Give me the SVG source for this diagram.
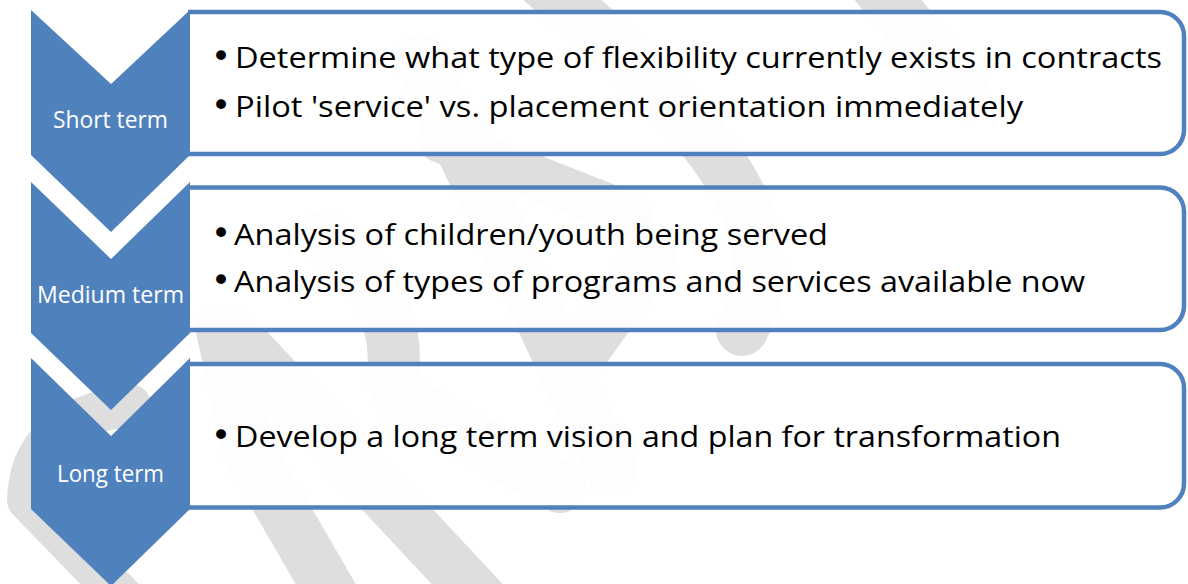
<svg xmlns="http://www.w3.org/2000/svg" width="1188" height="584" viewBox="0 0 1188 584">
<style>
.wm{fill:none;stroke:#dedede;stroke-width:52;stroke-linecap:round;stroke-linejoin:round}
.box{fill:#ffffff;fill-opacity:0.93;stroke:#4f81bd;stroke-width:4.5}
.chev{fill:#4f81bd}
.lbl{font-family:"Open Sans","Liberation Sans",sans-serif;font-size:24px;fill:#ffffff;text-anchor:middle}
.txt{font-family:"Open Sans","Liberation Sans",sans-serif;font-size:30px;fill:#000000}
.b{font-family:"DejaVu Sans",sans-serif;font-size:34px}
</style>
<rect width="1188" height="584" fill="#ffffff"/>
<g id="watermark">
<path class="wm" d="M540,-20 C700,120 800,220 742,330"/>
<path class="wm" d="M872,-20 L965,95"/>
<path class="wm" d="M420,60 L612,470"/>
<path class="wm" style="stroke-width:45" d="M440,140 L630,215"/>
<path class="wm" d="M575,362 L650,258"/>
<path class="wm" d="M325,235 Q405,300 392,380"/>
<path class="wm" d="M400,398 L560,487"/>
<path class="wm" d="M222,330 L248,450 L335,600"/>
<path class="wm" d="M230,330 L482,600"/>
<path class="wm" style="stroke-width:42" d="M130,405 Q30,420 28,500 L125,600"/>
</g>
<g id="connectors"></g>
<g id="box1">
<path class="box" d="M188,12 H1160 A24,24 0 0 1 1184,36 V130 A24,24 0 0 1 1160,154 H188"/>
<text class="txt" y="68"><tspan class="b" x="211">•</tspan><tspan x="235" textLength="927" lengthAdjust="spacingAndGlyphs">Determine what type of flexibility currently exists in contracts</tspan></text>
<text class="txt" y="116.5"><tspan class="b" x="211">•</tspan><tspan x="235" textLength="788" lengthAdjust="spacingAndGlyphs">Pilot 'service' vs. placement orientation immediately</tspan></text>
</g>
<g id="box2">
<path class="box" d="M188,187.5 H1160 A24,24 0 0 1 1184,211.5 V306 A24,24 0 0 1 1160,330 H188"/>
<text class="txt" y="245"><tspan class="b" x="211">•</tspan><tspan x="234" textLength="594" lengthAdjust="spacingAndGlyphs">Analysis of children/youth being served</tspan></text>
<text class="txt" y="292"><tspan class="b" x="211">•</tspan><tspan x="234" textLength="851" lengthAdjust="spacingAndGlyphs">Analysis of types of programs and services available now</tspan></text>
</g>
<g id="box3">
<path class="box" d="M188,364 H1160 A24,24 0 0 1 1184,388 V483.5 A24,24 0 0 1 1160,507.5 H188"/>
<text class="txt" y="447"><tspan class="b" x="211">•</tspan><tspan x="235" textLength="826" lengthAdjust="spacingAndGlyphs">Develop a long term vision and plan for transformation</tspan></text>
</g>
<g id="chevron1">
<polygon class="chev" points="31,10 111,84 190,10 190,155 111,232 31,155"/>
<text class="lbl" x="110.5" y="128" textLength="115" lengthAdjust="spacingAndGlyphs">Short term</text>
</g>
<g id="chevron2">
<polygon class="chev" points="31,182 111,259 190,182 190,333 111,410 31,333"/>
<text class="lbl" x="110.5" y="303" textLength="147" lengthAdjust="spacingAndGlyphs">Medium term</text>
</g>
<g id="chevron3">
<polygon class="chev" points="31,358 111,436 190,358 190,509 111,586 31,509"/>
<text class="lbl" x="110.5" y="482" textLength="107" lengthAdjust="spacingAndGlyphs">Long term</text>
</g>
</svg>
